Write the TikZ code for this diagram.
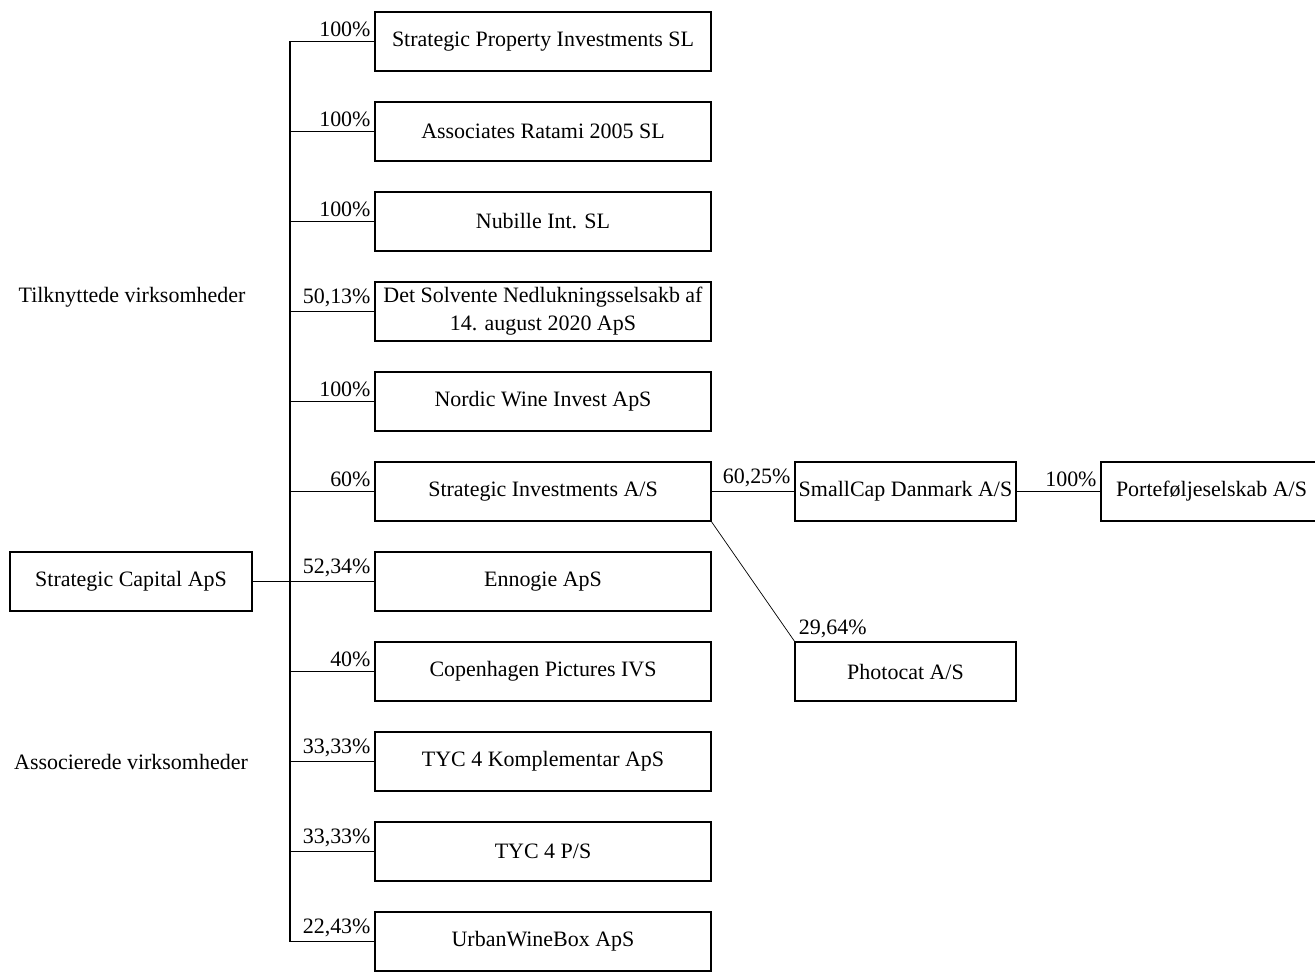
\documentclass[tikz,border=0pt]{standalone}
\usepackage{fontspec}
\setmainfont{Liberation Serif}
\usetikzlibrary{positioning}
\tikzset{company/.style={rectangle,draw,line width=1.1pt,outer sep=0pt,minimum width=6.72cm,minimum height=1.18cm,inner sep=2pt,align=center},
pct/.style={anchor=south east,inner sep=2pt},
link/.style={draw,line width=1.1pt},
}

\begin{document}
\begin{tikzpicture}[node distance = 0.62cm, font=\fontsize{12.5}{16}\selectfont]
	\useasboundingbox (0,0) rectangle (26.3,-19.46);
	\node[company] (spi) at (10.86,-0.83){Strategic Property Investments SL};
	\node[company] (rat)[below = of spi]{Associates Ratami 2005 SL};
	\node[company] (nub)[below = of rat]{Nubille Int. SL};
	\node[company] (det)[below = of nub]{Det Solvente Nedlukningsselsakb af\\14. august 2020 ApS};
	\node[company] (nwi)[below = of det]{Nordic Wine Invest ApS};
	\node[company] (si)[below = of nwi]{Strategic Investments A/S};
	\node[company] (enn)[below = of si]{Ennogie ApS};
	\node[company] (cph)[below = of enn]{Copenhagen Pictures IVS};
	\node[company] (tyck)[below = of cph]{TYC 4 Komplementar ApS};
	\node[company] (tycp)[below = of tyck]{TYC 4 P/S};
	\node[company] (uwb)[below = of tycp]{UrbanWineBox ApS};
	\node[company,minimum width=4.84cm] (sc) at (2.62,-11.63){Strategic Capital ApS};
	\node[company,minimum width=4.42cm] (smc)[right = 1.68cm of si]{SmallCap Danmark A/S};
	\node[company,minimum width=4.42cm] (pfs)[right = 1.7cm of smc]{Porteføljeselskab A/S};
	\node[company,minimum width=4.42cm] (pho)[below = 2.42cm of smc]{Photocat A/S};
	\node (tilk) at (2.64,-5.94){Tilknyttede virksomheder};
	\node (asso) at (2.62,-15.24){Associerede virksomheder};
	
	\draw[link] (sc.east) -- ++(0.76,0) coordinate (hub);
	\draw[link] (hub |- spi) -- (hub |- uwb);
	
	\path
	(hub |- spi) edge[link] node[pct,pos=1] {100\%} (spi.west)
	(hub |- rat) edge[link] node[pct,pos=1] {100\%} (rat.west)
	(hub |- nub) edge[link] node[pct,pos=1] {100\%} (nub.west)
	(hub |- det) edge[link] node[pct,pos=1] {50,13\%} (det.west)
	(hub |- nwi) edge[link] node[pct,pos=1] {100\%} (nwi.west)
	(hub |- si) edge[link] node[pct,pos=1] {60\%} (si.west)
	(hub |- enn) edge[link] node[pct,pos=1] {52,34\%} (enn.west)
	(hub |- cph) edge[link] node[pct,pos=1] {40\%} (cph.west)
	(hub |- tyck) edge[link] node[pct,pos=1] {33,33\%} (tyck.west)
	(hub |- tycp) edge[link] node[pct,pos=1] {33,33\%} (tycp.west)
	(hub |- uwb) edge[link] node[pct,pos=1] {22,43\%} (uwb.west)
	(si.east) edge[link] node[pct,pos=1] {60,25\%} (smc.west)
	(smc.east) edge[link] node[pct,pos=1] {100\%} (pfs.west);
	\draw[thin] (si.south east) -- (pho.north west) node[anchor=south west,inner sep=2pt] {29,64\%};
\end{tikzpicture}
\end{document}
